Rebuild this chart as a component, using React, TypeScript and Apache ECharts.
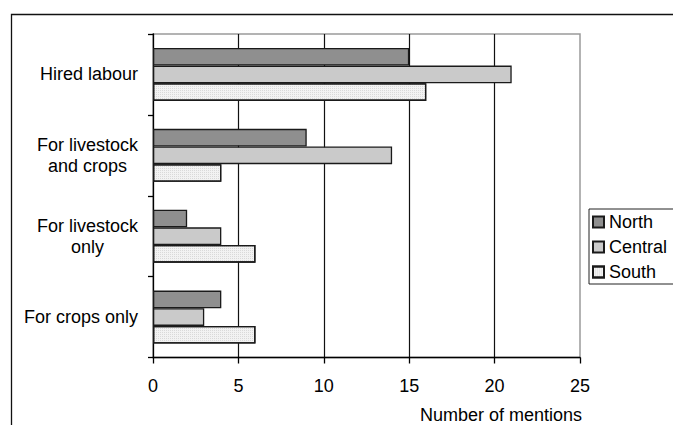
import React, { useEffect, useRef } from "react";
import * as echarts from "echarts";

const categories = ["Hired labour", "For livestock\nand crops", "For livestock\nonly", "For crops only"];
const seriesNames = ["North", "Central", "South"];
const north = [15, 9, 2, 4];
const central = [21, 14, 4, 3];
const south = [16, 4, 6, 6];
const xTicks = [0, 5, 10, 15, 20, 25];
const xTitle = "Number of mentions";

const FONT = "'Liberation Sans', Arial, Helvetica, sans-serif";

export default function App() {
  const ref = useRef<HTMLDivElement>(null);
  useEffect(() => {
    if (!ref.current) return;
    const chart = echarts.init(ref.current, null, { renderer: "svg" });
    const barBase = {
      type: "bar",
      barGap: "0%",
      barCategoryGap: "34.5%",
    };
    chart.setOption({
      animation: false,
      backgroundColor: "#ffffff",
      textStyle: { fontFamily: FONT },
      grid: {
        left: 153,
        top: 34,
        right: 93,
        bottom: 67.5,
        show: true,
        borderColor: "#9a9a9a",
        borderWidth: 1.5,
        outerBoundsMode: "none",
        containLabel: false,
      },
      legend: {
        orient: "vertical",
        left: 589,
        top: 209,
        data: seriesNames,
        itemWidth: 11,
        itemHeight: 11,
        itemGap: 7,
        padding: [4, 24, 3, 3],
        borderColor: "#222",
        borderWidth: 1,
        backgroundColor: "#fff",
        icon: "rect",
        textStyle: { fontSize: 18, color: "#000", fontFamily: FONT },
      },
      xAxis: {
        type: "value",
        min: xTicks[0],
        max: xTicks[xTicks.length - 1],
        interval: xTicks[1] - xTicks[0],
        axisLine: { show: true, lineStyle: { color: "#000", width: 1.3 } },
        axisTick: { show: true, length: 6, lineStyle: { color: "#000", width: 1.3 } },
        axisLabel: { fontSize: 18, color: "#000", margin: 19, fontFamily: FONT },
        splitLine: { show: true, showMinLine: false, showMaxLine: false, lineStyle: { color: "#111", width: 1.2 } },
      },
      yAxis: {
        type: "category",
        inverse: true,
        data: categories,
        axisLine: { show: true, lineStyle: { color: "#000", width: 1.3 } },
        axisTick: { show: true, length: 5, lineStyle: { color: "#000", width: 1.3 } },
        axisLabel: {
          margin: 15,
          fontSize: 18,
          color: "#000",
          fontFamily: FONT,
          formatter: (v: string) => v.split("\n").map((l) => `{a|${l}}`).join("\n"),
          rich: { a: { align: "center", fontSize: 18, lineHeight: 21, color: "#000", fontFamily: FONT } },
        },
        splitLine: { show: false },
      },
      series: [
        {
          ...barBase,
          name: seriesNames[0],
          data: north,
          itemStyle: { color: "#8f8f8f", borderColor: "#1a1a1a", borderWidth: 1.3 },
        },
        {
          ...barBase,
          name: seriesNames[1],
          data: central,
          itemStyle: { color: "#cacaca", borderColor: "#1a1a1a", borderWidth: 1.3 },
        },
        {
          ...barBase,
          name: seriesNames[2],
          data: south,
          itemStyle: {
            color: "#f2f2f2",
            borderColor: "#1a1a1a",
            borderWidth: 1.3,
            decal: {
              symbol: "rect",
              symbolSize: 1,
              dashArrayX: [1, 1],
              dashArrayY: [1, 1],
              rotation: 0,
              color: "rgba(0,0,0,0.1)",
            },
          },
        },
      ],
      graphic: [
        {
          type: "rect",
          silent: true,
          shape: { x: 11.5, y: 14.5, width: 700, height: 500 },
          style: { fill: "none", stroke: "#111", lineWidth: 1.3 },
          z: 100,
        },
        {
          type: "text",
          silent: true,
          x: 501,
          y: 415,
          style: {
            text: xTitle,
            fontSize: 18,
            fontFamily: FONT,
            fill: "#000",
            align: "center",
            verticalAlign: "middle",
          },
        },
      ],
    });
    return () => chart.dispose();
  }, []);
  return (
    <div
      ref={ref}
      style={{ position: "fixed", left: 0, top: 0, width: 673, height: 425, background: "#fff" }}
    />
  );
}
